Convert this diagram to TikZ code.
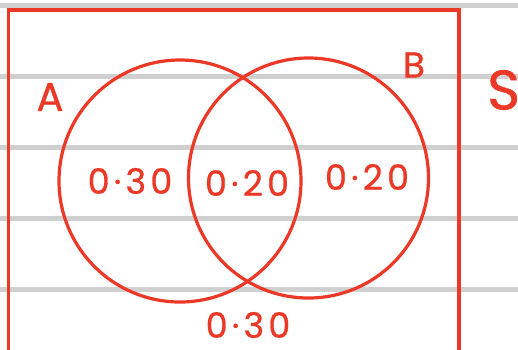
\documentclass[tikz,border=0pt]{standalone}
\usepackage{fontspec}
\setmainfont{Poppins}[FakeBold=0.8]
\definecolor{pen}{RGB}{236,56,38}
\definecolor{rule}{RGB}{208,208,208}
\begin{document}
\begin{tikzpicture}[x=1pt,y=-1pt,
  ruleline/.style={draw=rule,line width=5pt},
  penline/.style={draw=pen,line width=3.2pt},
  lbl/.style={text=pen,inner sep=0pt,font=\fontsize{35}{35}\selectfont\addfontfeature{LetterSpace=12}},
  setlbl/.style={text=pen,inner sep=0pt,font=\fontsize{40}{40}\selectfont}]
\useasboundingbox (0,0) rectangle (518,349);
\fill[white] (0,0) rectangle (518,349);
% ruled lines
\foreach \y in {5,76,147,218,289} \draw[ruleline] (0,\y) -- (518,\y);
% universal set box
\coordinate (tl) at (8.5,10);
\coordinate (br) at (459,360);
\draw[penline,line width=3.8pt] (tl) rectangle (br);
% circles
\node[penline,circle,minimum size=242pt,inner sep=0pt] (A) at (180,181) {};
\node[penline,circle,minimum size=240pt,inner sep=0pt] (B) at (308.5,178) {};
% labels
\node[setlbl] (la) at (50,97) {A};
\node[setlbl,font=\fontsize{36}{36}\selectfont] (lb) at (414,65) {B};
\node[setlbl,font=\fontsize{56}{56}\selectfont,anchor=west] (ls) at (487,90) {S};
\node[lbl] (pa) at (130,181) {0·30};
\node[lbl] (pab) at (247,183) {0·20};
\node[lbl] (pb) at (367,177) {0·20};
\node[lbl] (pn) at (248,325) {0·30};
\end{tikzpicture}
\end{document}
